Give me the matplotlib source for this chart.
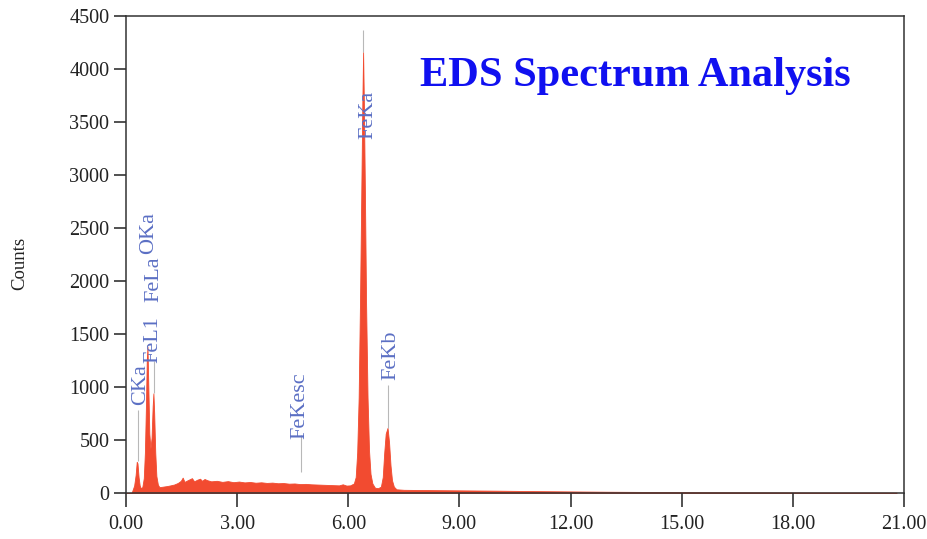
import matplotlib
matplotlib.use("Agg")
import matplotlib.pyplot as plt

# ---- data ----
energy_kev = [0.00, 0.15, 0.18, 0.22, 0.26, 0.29, 0.31, 0.34, 0.37, 0.40, 0.44, 0.48,
              0.51, 0.54, 0.56, 0.58, 0.60, 0.63, 0.66, 0.69, 0.72, 0.74, 0.76, 0.79,
              0.82, 0.86, 0.90, 1.00, 1.10, 1.20, 1.30, 1.40, 1.48, 1.53, 1.58, 1.65,
              1.72, 1.78, 1.84, 1.92, 2.00, 2.05, 2.12, 2.20, 2.30, 2.45, 2.60, 2.75,
              2.90, 3.05, 3.20, 3.35, 3.50, 3.65, 3.80, 3.95, 4.10, 4.25, 4.40, 4.55,
              4.70, 4.85, 5.00, 5.15, 5.30, 5.45, 5.60, 5.75, 5.85, 5.95, 6.05, 6.15,
              6.20, 6.24, 6.28, 6.32, 6.35, 6.38, 6.40, 6.42, 6.45, 6.48, 6.52, 6.56,
              6.60, 6.65, 6.72, 6.80, 6.88, 6.93, 6.97, 7.01, 7.06, 7.10, 7.14, 7.18,
              7.23, 7.30, 7.50, 8.00, 9.00, 10.0, 11.0, 12.0, 13.0, 14.0, 15.0, 16.0,
              17.0, 18.0, 19.0, 20.0, 20.8]
counts = [0, 0, 30, 70, 170, 295, 280, 150, 70, 45, 55, 140,
          380, 850, 1250, 1380, 1050, 560, 420, 520, 820, 940, 760, 380,
          160, 80, 55, 60, 65, 72, 80, 95, 115, 145, 105, 118,
          130, 140, 110, 125, 135, 115, 132, 120, 110, 115, 105, 112,
          102, 108, 100, 104, 97, 101, 95, 98, 92, 94, 88, 90,
          84, 86, 82, 80, 78, 76, 74, 72, 82, 70, 72, 90,
          150, 380, 900, 1900, 2800, 3700, 4160, 3700, 2800, 1800, 900, 400,
          180, 90, 50, 45, 60, 150, 380, 560, 615, 480, 260, 120,
          60, 35, 30, 28, 25, 22, 18, 15, 12, 10, 8, 7,
          6, 5, 4, 4, 3]

peak_labels = ["CKa", "FeL1", "FeLa", "OKa", "FeKesc", "FeKa", "FeKb"]
label_x = [0.40, 0.72, 0.76, 0.60, 4.68, 6.52, 7.16]
label_y = [1020, 1445, 2020, 2450, 820, 3570, 1300]

marker_x = [0.33, 0.58, 0.76, 4.72, 6.40, 7.08]
marker_lo = [300, 1380, 940, 200, 4160, 615]
marker_hi = [780, 1400, 1250, 545, 4370, 1020]

x_ticks = [0, 3, 6, 9, 12, 15, 18, 21]
y_ticks = [0, 500, 1000, 1500, 2000, 2500, 3000, 3500, 4000, 4500]

plt.rcParams['font.family'] = ['Liberation Serif', 'DejaVu Serif']

fig = plt.figure(figsize=(9.28, 5.39), dpi=100)
ax = fig.add_axes([126 / 928, 1 - 493 / 539, (904 - 126) / 928, (493 - 16) / 539])

fill_col = '#f24b30'
ax.fill_between(energy_kev, counts, 0, color=fill_col, linewidth=0.6, edgecolor=fill_col)

ax.vlines(marker_x, marker_lo, marker_hi, colors='#b8b8b8', linewidth=0.8)

for lab, lx, ly in zip(peak_labels, label_x, label_y):
    ax.text(lx, ly, lab, rotation=90, ha='center', va='center',
            fontsize=16, color='#5b6fc4')

ax.set_xlim(0, 21)
ax.set_ylim(0, 4500)
ax.set_xticks(x_ticks)
ax.set_xticklabels([f"{v:.2f}" for v in x_ticks])
ax.set_yticks(y_ticks)
ax.tick_params(axis='both', direction='out', labelsize=14.5, colors='#222222',
               width=1.1)
ax.tick_params(axis='x', length=10, pad=6)
ax.tick_params(axis='y', length=9, pad=3)
for s in ax.spines.values():
    s.set_color('#333333')
    s.set_linewidth(1.1)

fig.text(20 / 928, 1 - 263 / 539, "Counts", rotation=90, ha='center', va='center',
         fontsize=13.5, color='#222222')

fig.text(420 / 928, 1 - 86 / 539, "EDS Spectrum Analysis", ha='left', va='baseline',
         fontsize=30.5, fontweight='bold', color='#1010f0')

fig.savefig("out.png", dpi=100)
